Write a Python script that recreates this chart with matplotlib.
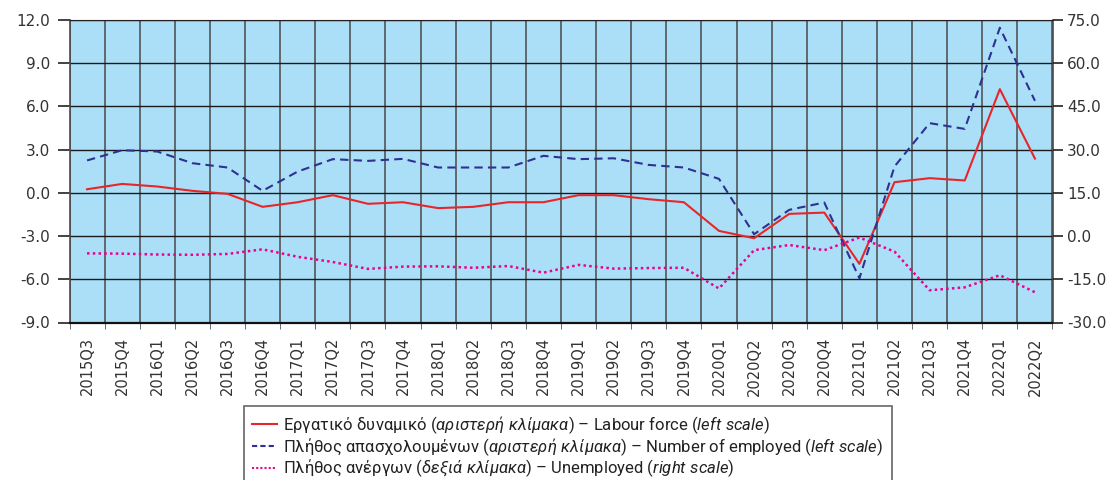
import numpy as np
import matplotlib.pyplot as plt
from matplotlib.lines import Line2D

quarters = ["2015Q3", "2015Q4",
            "2016Q1", "2016Q2", "2016Q3", "2016Q4",
            "2017Q1", "2017Q2", "2017Q3", "2017Q4",
            "2018Q1", "2018Q2", "2018Q3", "2018Q4",
            "2019Q1", "2019Q2", "2019Q3", "2019Q4",
            "2020Q1", "2020Q2", "2020Q3", "2020Q4",
            "2021Q1", "2021Q2", "2021Q3", "2021Q4",
            "2022Q1", "2022Q2"]

# left scale (%)
labour_force = [0.25, 0.62, 0.44, 0.14, -0.07, -0.97, -0.65, -0.16, -0.76, -0.65,
                -1.06, -0.97, -0.65, -0.65, -0.16, -0.16, -0.44, -0.65, -2.64, -3.15,
                -1.46, -1.37, -4.93, 0.74, 1.02, 0.86, 7.20, 2.38]
employed = [2.25, 2.96, 2.87, 2.06, 1.76, 0.14, 1.48, 2.34, 2.22, 2.36,
            1.76, 1.76, 1.76, 2.57, 2.34, 2.40, 1.94, 1.76, 0.97, -2.87,
            -1.18, -0.67, -5.93, 1.83, 4.84, 4.44, 11.46, 6.39]
# right scale (%)
unemployed = [-6.0, -6.1, -6.4, -6.5, -6.2, -4.6, -7.2, -9.0, -11.4, -10.6,
              -10.5, -11.0, -10.4, -12.7, -10.0, -11.3, -11.1, -11.0, -18.2, -4.9,
              -3.1, -4.9, -0.5, -5.4, -18.8, -17.8, -13.6, -19.5]

left_ticks = [-9.0, -6.0, -3.0, 0.0, 3.0, 6.0, 9.0, 12.0]
right_ticks = [-30.0, -15.0, 0.0, 15.0, 30.0, 45.0, 60.0, 75.0]

lab_labour = "Εργατικό δυναμικό $\\mathit{(αριστερή\\ κλίμακα)}$ – Labour force $\\mathit{(left\\ scale)}$"
lab_employed = "Πλήθος απασχολουμένων $\\mathit{(αριστερή\\ κλίμακα)}$ – Number of employed $\\mathit{(left\\ scale)}$"
lab_unemployed = "Πλήθος ανέργων $\\mathit{(δεξιά\\ κλίμακα)}$ – Unemployed $\\mathit{(right\\ scale)}$"

plt.rcParams['font.family'] = ['DejaVu Sans']
legend_font = ['Roboto', 'DejaVu Sans']
plt.rcParams['mathtext.fontset'] = 'custom'
plt.rcParams['mathtext.rm'] = 'Roboto'
plt.rcParams['mathtext.it'] = 'Roboto:italic'

red = '#E8262A'
navy = '#2E3192'
magenta = '#EC008C'
tick_col = '#333333'

fig = plt.figure(figsize=(11.07, 4.8), dpi=100)
ax = fig.add_axes([69.5/1107, 1 - 322.5/480, (1052.5 - 69.5)/1107, (322.5 - 20)/480])
ax.set_facecolor('#ABDFF8')

x = np.arange(len(quarters))
ax.plot(x, labour_force, color=red, lw=1.5, zorder=3)
ax.plot(x, employed, color=navy, lw=1.5, ls=(0, (4, 2.5)), zorder=3)

ax.set_xlim(-0.5, len(quarters) - 0.5)
ax.set_ylim(-9, 12)
ax.set_yticks(left_ticks)
ax.set_yticklabels(["%.1f" % v for v in left_ticks])
ax.set_xticks(x)
ax.set_xticklabels(quarters, rotation=90)
ax.set_xticks(np.arange(-0.5, len(quarters), 1), minor=True)
ax.tick_params(axis='x', which='major', length=0, pad=10.5, labelsize=10.5, labelcolor=tick_col)
ax.tick_params(axis='x', which='minor', length=4, color='#555555')
ax.tick_params(axis='y', length=8.3, width=1.2, pad=5.5, labelsize=11, labelcolor=tick_col, color='#222222')

ax.grid(True, axis='x', which='minor', color='#4a4a4a', lw=1.3, alpha=0.85, zorder=1)
ax.grid(True, axis='y', which='major', color='#1a1a1a', lw=1.0, zorder=1)
ax.grid(False, axis='x', which='major')
ax.set_axisbelow(True)

for side in ['left', 'right']:
    ax.spines[side].set_color('#4a4a4a')
    ax.spines[side].set_linewidth(1.2)
ax.spines['top'].set_color('#222222')
ax.spines['bottom'].set_color('#111111')
ax.spines['bottom'].set_linewidth(1.6)

ax2 = ax.twinx()
ax2.plot(x, unemployed, color=magenta, lw=1.8, ls=(0, (1, 1.3)), zorder=3)
ax2.set_ylim(-30, 75)
ax2.set_yticks(right_ticks)
ax2.set_yticklabels(["%.1f" % v for v in right_ticks])
ax2.tick_params(axis='y', length=7.5, width=1.2, pad=3, labelsize=11, labelcolor=tick_col, color='#222222')
for s in ax2.spines.values():
    s.set_visible(False)

handles = [Line2D([], [], color=red, lw=1.5),
           Line2D([], [], color=navy, lw=1.5, ls=(0, (2.5, 1.5))),
           Line2D([], [], color=magenta, lw=1.5, ls=(0, (1, 1)))]
leg = fig.legend(handles, [lab_labour, lab_employed, lab_unemployed],
                 loc='upper center', bbox_to_anchor=(0.513, 1 - 406/480),
                 prop={'family': legend_font, 'size': 12},
                 frameon=True, fancybox=False, edgecolor='#404040',
                 handlelength=1.45, handletextpad=0.4, labelspacing=0.0,
                 borderpad=0.5, borderaxespad=0)
leg.get_frame().set_linewidth(1.2)
for t in leg.get_texts():
    t.set_color('#222222')

fig.savefig('out.png', dpi=100)
